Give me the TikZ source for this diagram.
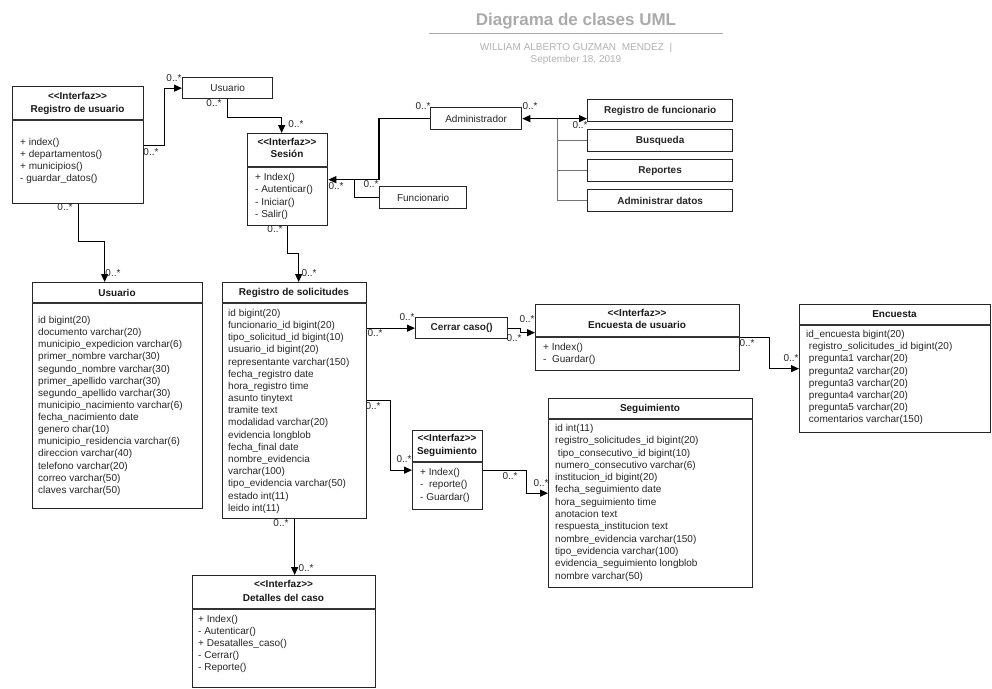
\documentclass[tikz,border=0pt]{standalone}
\usepackage{fontspec}
\setmainfont{Liberation Sans}
\usetikzlibrary{arrows.meta,calc}
\definecolor{ttlgray}{RGB}{170,170,170}
\definecolor{subgray}{RGB}{178,178,178}
\newcommand\stereoI{<\kern0pt<Interfaz>\kern0pt>}
\begin{document}
\begin{tikzpicture}[x=1pt,y=-1pt,
  box/.style={draw=black!85,line width=1.3pt,fill=white,inner sep=0pt,anchor=north west,font=\fontsize{10}{12}\selectfont,text=black!85},
  bbox/.style={box,font=\fontsize{10}{12}\selectfont\bfseries},
  div/.style={draw=black!80,line width=1.1pt},
  head/.style={inner sep=0pt,align=center,font=\fontsize{10}{13}\selectfont\bfseries,text=black!90},
  list/.style={inner sep=0pt,anchor=north west,align=left,text=black!85},
  lab/.style={inner sep=0pt,font=\fontsize{10}{12}\selectfont,text=black!85},
  conn/.style={draw=black,line width=1.1pt,-{Triangle[length=8pt,width=7pt]}},
  conn2/.style={draw=black,line width=1.1pt,{Triangle[length=8pt,width=7pt]}-{Triangle[length=8pt,width=7pt]}},
  plain/.style={draw=black,line width=1.1pt},
  branch/.style={draw=black!55,line width=0.9pt}
]
\useasboundingbox (0,0) rectangle (992,688);

% ---------- title ----------
\node[inner sep=0pt,font=\fontsize{17}{20}\selectfont\bfseries,text=ttlgray] (ttl) at (576,21) {Diagrama de clases UML};
\draw[draw=ttlgray,line width=1pt] (429,33) -- (723,33);
\node[inner sep=0pt,align=center,font=\fontsize{10}{12}\selectfont,text=subgray] (sub) at (576,54) {WILLIAM ALBERTO GUZMAN\ \ MENDEZ\ \ |\\September 18, 2019};

% ---------- boxes ----------
\node[box,minimum width=131pt,minimum height=117pt] (regu) at (12,86) {};
\draw[div] ([yshift=-34pt]regu.north west) -- ([yshift=-34pt]regu.north east);
\node[head] (regu-h) at (77.5,103.5) {\stereoI\\Registro de usuario};
\node[list,font=\fontsize{10}{12}\selectfont] (regu-m) at (20,138) {+ index()\\+ departamentos()\\+ municipios()\\- guardar\_datos()};

\node[box,minimum width=90pt,minimum height=21pt] (usr) at (182,77) {Usuario};

\node[box,minimum width=80pt,minimum height=92pt] (ses) at (247,133) {};
\draw[div] ([yshift=-34pt]ses.north west) -- ([yshift=-34pt]ses.north east);
\node[head,font=\fontsize{10}{12.5}\selectfont\bfseries] (ses-h) at (287,148) {\stereoI\\Sesión};
\node[list,font=\fontsize{10}{12.3}\selectfont] (ses-m) at (255,173) {+ Index()\\- Autenticar()\\- Iniciar()\\- Salir()};

\node[box,minimum width=91pt,minimum height=22pt] (ad) at (430,107) {Administrador};
\node[box,minimum width=87pt,minimum height=22pt] (fn) at (379,186) {Funcionario};
\node[bbox,minimum width=145pt,minimum height=22pt] (rf) at (587,99) {Registro de funcionario};
\node[bbox,minimum width=145pt,minimum height=22pt] (bq) at (587,129) {Busqueda};
\node[bbox,minimum width=145pt,minimum height=22pt] (rp) at (587,159) {Reportes};
\node[bbox,minimum width=145pt,minimum height=22pt] (adt) at (587,189) {Administrar datos};

\node[box,minimum width=170pt,minimum height=226pt] (ut) at (32,282) {};
\draw[div] ([yshift=-21pt]ut.north west) -- ([yshift=-21pt]ut.north east);
\node[head] (ut-h) at (117,292.5) {Usuario};
\node[list,font=\fontsize{10}{12.14}\selectfont] (ut-a) at (38,316) {id bigint(20)\\documento varchar(20)\\municipio\_expedicion varchar(6)\\primer\_nombre varchar(30)\\segundo\_nombre varchar(30)\\primer\_apellido varchar(30)\\segundo\_apellido varchar(30)\\municipio\_nacimiento varchar(6)\\fecha\_nacimiento date\\genero char(10)\\municipio\_residencia varchar(6)\\direccion varchar(40)\\telefono varchar(20)\\correo varchar(50)\\claves varchar(50)};

\node[box,minimum width=144pt,minimum height=236pt] (rs) at (222,282) {};
\draw[div] ([yshift=-21pt]rs.north west) -- ([yshift=-21pt]rs.north east);
\node[head] (rs-h) at (294,292.5) {Registro de solicitudes};
\node[list,font=\fontsize{10}{12.17}\selectfont] (rs-a) at (228,309) {id bigint(20)\\funcionario\_id bigint(20)\\tipo\_solicitud\_id bigint(10)\\usuario\_id bigint(20)\\representante varchar(150)\\fecha\_registro date\\hora\_registro time\\asunto tinytext\\tramite text\\modalidad varchar(20)\\evidencia longblob\\fecha\_final date\\nombre\_evidencia\\varchar(100)\\tipo\_evidencia varchar(50)\\estado int(11)\\leido int(11)};

\node[bbox,minimum width=92pt,minimum height=21pt] (cc) at (415,317) {Cerrar caso()};

\node[box,minimum width=204pt,minimum height=66pt] (eu) at (535,304) {};
\draw[div] ([yshift=-33pt]eu.north west) -- ([yshift=-33pt]eu.north east);
\node[head,font=\fontsize{10}{12}\selectfont\bfseries] (eu-h) at (637,319) {\stereoI\\Encuesta de usuario};
\node[list,font=\fontsize{10}{12}\selectfont] (eu-m) at (543,343) {+ Index()\\-\ \ Guardar()};

\node[box,minimum width=191pt,minimum height=128pt] (en) at (799,304) {};
\draw[div] ([yshift=-21pt]en.north west) -- ([yshift=-21pt]en.north east);
\node[head] (en-h) at (894.5,314.5) {Encuesta};
\node[list,font=\fontsize{10}{12.2}\selectfont] (en-a) at (806,330) {id\_encuesta bigint(20)\\\ registro\_solicitudes\_id bigint(20)\\\ pregunta1 varchar(20)\\\ pregunta2 varchar(20)\\\ pregunta3 varchar(20)\\\ pregunta4 varchar(20)\\\ pregunta5 varchar(20)\\\ comentarios varchar(150)};

\node[box,minimum width=70pt,minimum height=79pt] (si) at (412,430) {};
\draw[div] ([yshift=-32pt]si.north west) -- ([yshift=-32pt]si.north east);
\node[head] (si-h) at (447,445.5) {\stereoI\\Seguimiento};
\node[list,font=\fontsize{10}{12.5}\selectfont] (si-m) at (420,468) {+ Index()\\-\ \ reporte()\\- Guardar()};

\node[box,minimum width=204pt,minimum height=189pt] (st) at (548,398) {};
\draw[div] ([yshift=-21pt]st.north west) -- ([yshift=-21pt]st.north east);
\node[head] (st-h) at (650,408.5) {Seguimiento};
\node[list,font=\fontsize{10}{12.3}\selectfont] (st-a) at (555,424) {id int(11)\\registro\_solicitudes\_id bigint(20)\\\ tipo\_consecutivo\_id bigint(10)\\numero\_consecutivo varchar(6)\\institucion\_id bigint(20)\\fecha\_seguimiento date\\hora\_seguimiento time\\anotacion text\\respuesta\_institucion text\\nombre\_evidencia varchar(150)\\tipo\_evidencia varchar(100)\\evidencia\_seguimiento longblob\\nombre varchar(50)};

\node[box,minimum width=183pt,minimum height=112pt] (dc) at (192,575) {};
\draw[div] ([yshift=-34pt]dc.north west) -- ([yshift=-34pt]dc.north east);
\node[head,font=\fontsize{10}{14}\selectfont\bfseries] (dc-h) at (283.5,591) {\stereoI\\Detalles del caso};
\node[list,font=\fontsize{10}{12}\selectfont] (dc-m) at (198,615) {+ Index()\\- Autenticar()\\+ Desatalles\_caso()\\- Cerrar()\\- Reporte()};

% ---------- connectors ----------
\draw[conn] (regu.east) -- ++(20,0) |- (usr.west);
\draw[conn] (usr.south) -- ++(0,18) -| ($(ses.north)+(-6,0)$);
\draw[conn] (ses.south) -- ++(0,27) -| ($(rs.north)+(4,0)$);
\draw[conn] (regu.south) -- ++(0,37) -| ($(ut.north)+(-13,0)$);
\draw[conn] (ad.west) -| (fn.west |- ses.east) -- (ses.east);
\draw[plain] (fn.west) -| ($(ses.east)+(26,0)$);
\draw[conn2] (ad.east) -- (ad.east -| rf.west);
\draw[branch] ($(ad.east)+(35,0)$) |- (bq.west);
\draw[branch] ($(ad.east)+(35,0)$) |- (rp.west);
\draw[branch] ($(ad.east)+(35,0)$) |- (adt.west);
\draw[conn] (rs.east |- cc.west) -- (cc.west);
\draw[conn] (rs.east) -- ++(23,0) |- (si.west);
\draw[conn] (cc.east) -- ++(12,0) |- ($(eu.west)+(0,-5)$);
\draw[conn] (eu.east) -- ++(29,0) |- (en.west);
\draw[conn] (si.east) -- ++(43,0) |- (st.west);
\draw[conn] (rs.south) -- (rs.south |- dc.north);

% ---------- multiplicities ----------
\node[lab] (l1) at (151,152) {0..*};
\node[lab] (l2) at (174,78) {0..*};
\node[lab] (l3) at (214,103) {0..*};
\node[lab] (l4) at (296,124) {0..*};
\node[lab] (l5) at (65,207) {0..*};
\node[lab] (l6) at (113,273) {0..*};
\node[lab] (l7) at (275,229) {0..*};
\node[lab] (l8) at (309,273) {0..*};
\node[lab] (l9) at (336,186) {0..*};
\node[lab] (l10) at (371,184) {0..*};
\node[lab] (l11) at (423,106) {0..*};
\node[lab] (l12) at (530,106) {0..*};
\node[lab] (l13) at (580,125) {0..*};
\node[lab] (l14) at (375,333) {0..*};
\node[lab] (l15) at (407,317) {0..*};
\node[lab] (l16) at (527,319) {0..*};
\node[lab] (l17) at (514,338) {0..*};
\node[lab] (l18) at (747,343) {0..*};
\node[lab] (l19) at (791,358) {0..*};
\node[lab] (l20) at (373,406) {0..*};
\node[lab] (l21) at (404,459) {0..*};
\node[lab] (l22) at (510,476) {0..*};
\node[lab] (l23) at (541,483) {0..*};
\node[lab] (l24) at (281,523) {0..*};
\node[lab] (l25) at (306,568) {0..*};
\end{tikzpicture}
\end{document}
